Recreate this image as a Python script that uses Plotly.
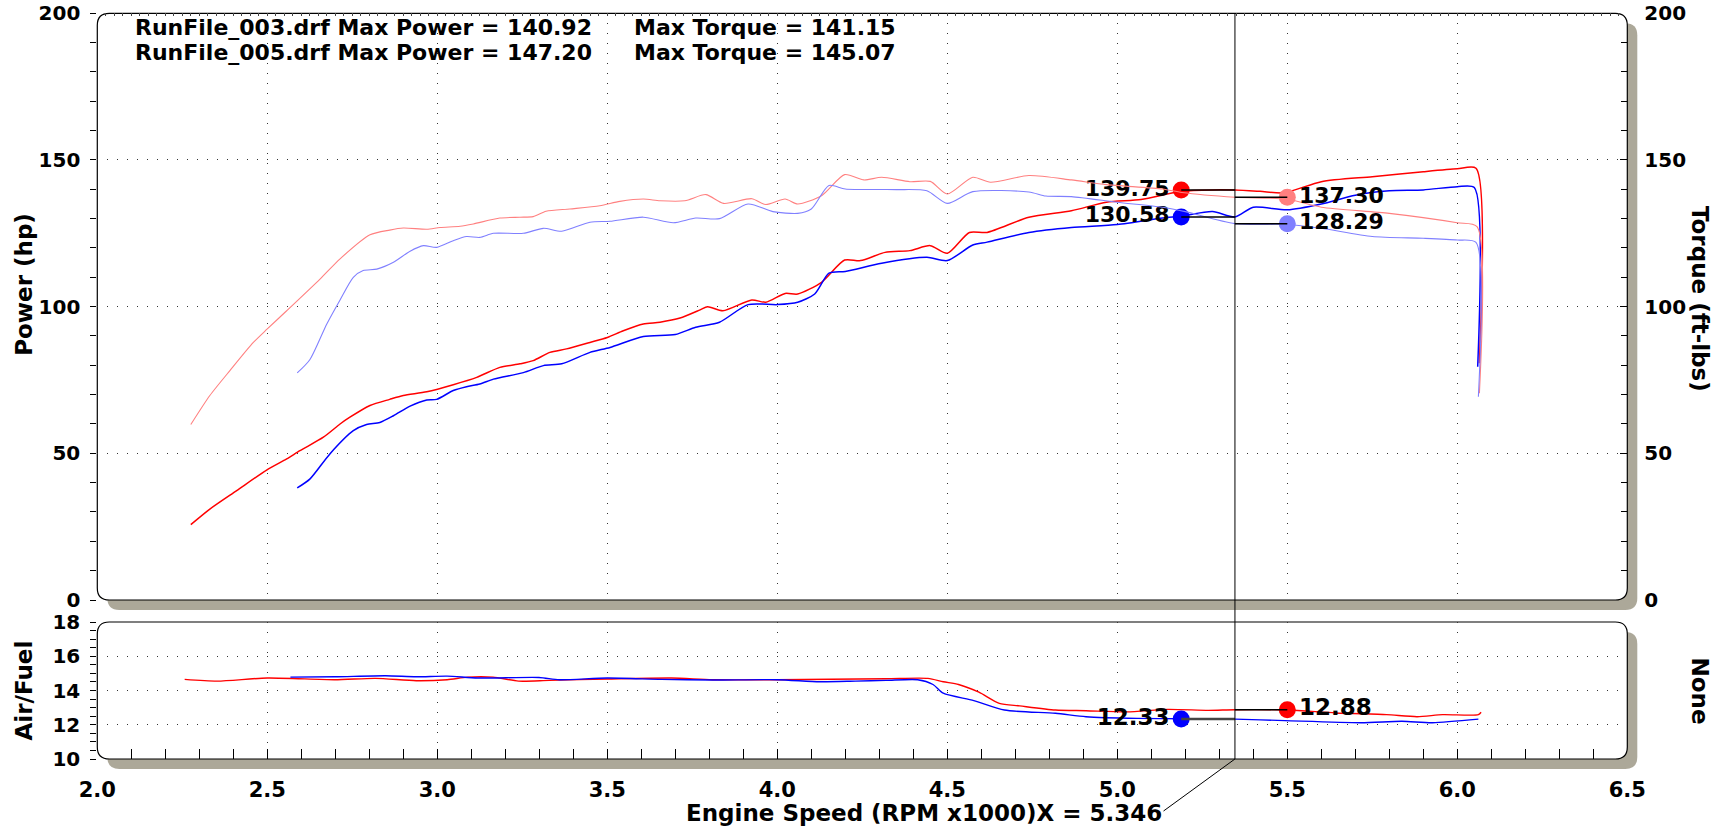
import plotly.graph_objects as go

# ---------------- data ----------------
rpm_pwr_005 = [2.275, 2.331, 2.41, 2.498, 2.557, 2.596, 2.665, 2.714, 2.743, 2.802, 2.86, 2.9, 2.969,
               3.047, 3.116, 3.184, 3.243, 3.282, 3.331, 3.38, 3.449, 3.5, 3.547, 3.606, 3.655, 3.714,
               3.773, 3.795, 3.84, 3.925, 3.966, 4.023, 4.06, 4.13, 4.198, 4.245, 4.317, 4.39, 4.45,
               4.5, 4.565, 4.617, 4.74, 4.865, 4.968, 5.07, 5.19, 5.28, 5.346, 5.42, 5.49, 5.6, 5.75,
               5.9, 6.0, 6.055, 6.065]
pwr_005 = [25.7, 31.0, 37.3, 44.3, 48.1, 50.9, 55.5, 60.0, 62.3, 66.3, 68.4, 69.7, 71.0,
           73.4, 75.9, 79.3, 80.5, 81.6, 84.4, 85.6, 87.8, 89.5, 91.8, 94.1, 94.7, 96.1,
           98.9, 100.0, 98.6, 102.3, 101.5, 104.5, 104.3, 108.3, 115.9, 115.7, 118.5, 119.1, 120.8,
           118.2, 125.3, 125.3, 130.5, 132.7, 135.6, 136.5, 139.3, 139.8, 139.75, 139.3, 138.8, 142.6, 144.3,
           146.0, 147.0, 147.2, 80.7]

rpm_pwr_003 = [2.588, 2.625, 2.684, 2.753, 2.792, 2.831, 2.871, 2.92, 2.969, 2.998, 3.047, 3.086, 3.125,
               3.165, 3.253, 3.312, 3.366, 3.449, 3.508, 3.606, 3.70, 3.76, 3.83, 3.914, 4.0, 4.06,
               4.11, 4.152, 4.2, 4.307, 4.44, 4.5, 4.575, 4.617, 4.74, 4.865, 5.0, 5.133, 5.19, 5.28,
               5.346, 5.4, 5.5, 5.6, 5.7, 5.8, 5.9, 6.0, 6.05, 6.06]
pwr_003 = [38.2, 41.2, 49.8, 57.7, 59.8, 60.5, 62.8, 66.1, 68.2, 68.4, 71.4, 72.7, 73.6,
           75.3, 77.5, 79.9, 80.5, 84.4, 86.1, 89.8, 90.5, 93.0, 94.7, 100.7, 100.7, 101.5,
           104.3, 111.4, 112.0, 114.8, 116.8, 115.7, 121.0, 122.0, 125.3, 127.0, 128.0, 130.2, 130.9, 132.4,
           130.58, 133.9, 133.0, 135.0, 138.0, 139.5, 139.8, 140.9, 140.6, 79.5]

rpm_trq_005 = [2.275, 2.331, 2.39, 2.459, 2.5, 2.557, 2.655, 2.714, 2.802, 2.86, 2.9, 2.969, 3.008,
               3.067, 3.106, 3.184, 3.243, 3.282, 3.32, 3.39, 3.478, 3.537, 3.606, 3.655, 3.728, 3.79,
               3.842, 3.925, 3.966, 4.023, 4.06, 4.13, 4.198, 4.255, 4.307, 4.39, 4.45, 4.5, 4.575,
               4.627, 4.74, 4.865, 4.968, 5.133, 5.19, 5.346, 5.5, 5.6, 5.8, 6.0, 6.058, 6.065]
trq_005 = [59.8, 69.7, 78.2, 87.8, 92.4, 98.6, 109.4, 116.3, 124.5, 126.1, 126.8, 126.4, 127.0,
           127.4, 128.2, 130.2, 130.5, 130.7, 132.5, 133.3, 134.4, 135.9, 136.7, 136.1, 136.1, 138.2,
           135.2, 136.8, 134.8, 136.7, 135.0, 137.8, 145.0, 143.2, 144.1, 142.6, 142.7, 138.4, 144.1,
           142.4, 144.7, 143.2, 141.6, 140.1, 138.9, 137.3, 136.6, 133.9, 131.8, 128.6, 127.3, 70.5]

rpm_trq_003 = [2.588, 2.625, 2.675, 2.714, 2.753, 2.782, 2.822, 2.871, 2.92, 2.959, 2.998, 3.047, 3.086,
               3.125, 3.165, 3.253, 3.312, 3.366, 3.449, 3.508, 3.606, 3.694, 3.76, 3.83, 3.914, 3.987,
               4.06, 4.10, 4.152, 4.2, 4.35, 4.44, 4.5, 4.575, 4.74, 4.79, 4.865, 5.0, 5.133, 5.2,
               5.346, 5.5, 5.6, 5.75, 5.9, 6.0, 6.055, 6.062]
trq_003 = [77.4, 81.9, 94.1, 102.3, 110.0, 112.3, 112.8, 115.1, 118.9, 120.8, 120.2, 122.5, 123.9,
           123.6, 125.0, 125.0, 126.7, 125.7, 128.8, 129.1, 130.5, 128.6, 130.2, 130.0, 135.0, 132.4,
           131.8, 133.3, 141.3, 140.1, 139.9, 139.5, 135.2, 139.2, 139.1, 137.7, 137.5, 135.6, 133.9, 132.4,
           128.29, 128.0, 126.7, 123.9, 123.3, 122.7, 121.9, 69.3]

rpm_afr_005 = [2.257, 2.353, 2.5, 2.698, 2.818, 2.938, 3.029, 3.089, 3.164, 3.239, 3.329, 3.5, 3.689,
               3.809, 4.0, 4.32, 4.443, 4.488, 4.533, 4.593, 4.653, 4.713, 4.818, 4.908, 5.028, 5.148,
               5.268, 5.346, 5.5, 5.642, 5.792, 5.882, 5.957, 6.062, 6.07]
afr_005 = [14.65, 14.55, 14.73, 14.63, 14.71, 14.57, 14.63, 14.78, 14.78, 14.55, 14.59, 14.67, 14.73,
           14.63, 14.63, 14.69, 14.71, 14.51, 14.35, 13.9, 13.25, 13.1, 12.86, 12.82, 12.75, 12.9,
           12.84, 12.88, 12.86, 12.69, 12.59, 12.47, 12.59, 12.59, 12.73]

rpm_afr_003 = [2.568, 2.698, 2.848, 2.938, 3.029, 3.119, 3.299, 3.359, 3.5, 3.659, 3.809, 4.0, 4.125,
               4.23, 4.32, 4.413, 4.458, 4.488, 4.578, 4.668, 4.818, 4.908, 5.058, 5.19, 5.346, 5.493,
               5.717, 5.837, 5.927, 6.062]
afr_003 = [14.78, 14.8, 14.86, 14.8, 14.84, 14.73, 14.76, 14.63, 14.73, 14.65, 14.61, 14.63, 14.51,
           14.55, 14.59, 14.63, 14.35, 13.84, 13.41, 12.86, 12.67, 12.47, 12.37, 12.35, 12.33, 12.24,
           12.12, 12.2, 12.12, 12.33]

CURSOR_X = 5.346
LEFT_MARK_X = 5.188
RIGHT_MARK_X = 5.5
cursor_pwr = [139.75, 130.58]      # 005, 003
cursor_trq = [137.30, 128.29]      # 005, 003
cursor_afr_left = 12.33            # 003
cursor_afr_right = 12.88           # 005

header_lines = ["RunFile_003.drf Max Power = 140.92", "RunFile_005.drf Max Power = 147.20"]
header_torque = ["Max Torque = 141.15", "Max Torque = 145.07"]
x_title = "Engine Speed (RPM x1000)X = 5.346"

# ---------------- styling ----------------
W, H = 1723, 828
XDOM = [97.3 / W, 1627.3 / W]
YDOM_TOP = [1 - 600 / H, 1 - 13.3 / H]
YDOM_BOT = [1 - 759 / H, 1 - 622 / H]

RED = "#ff0000"
BLUE = "#0000ff"
LRED = "#ff8080"
LBLUE = "#8080ff"
SHADOW = "#aca899"

F_MAIN = "DejaVu Sans"

fig = go.Figure()

line_shape = dict(shape="spline", smoothing=0.7)

fig.add_trace(go.Scatter(x=rpm_trq_005, y=trq_005, mode="lines", yaxis="y3", xaxis="x",
                         line=dict(color=LRED, width=1.1, **line_shape), hoverinfo="skip"))
fig.add_trace(go.Scatter(x=rpm_trq_003, y=trq_003, mode="lines", yaxis="y3", xaxis="x",
                         line=dict(color=LBLUE, width=1.1, **line_shape), hoverinfo="skip"))
fig.add_trace(go.Scatter(x=rpm_pwr_005, y=pwr_005, mode="lines", xaxis="x", yaxis="y",
                         line=dict(color=RED, width=1.5, **line_shape), hoverinfo="skip"))
fig.add_trace(go.Scatter(x=rpm_pwr_003, y=pwr_003, mode="lines", xaxis="x", yaxis="y",
                         line=dict(color=BLUE, width=1.5, **line_shape), hoverinfo="skip"))
fig.add_trace(go.Scatter(x=rpm_afr_005, y=afr_005, mode="lines", xaxis="x2", yaxis="y2",
                         line=dict(color=RED, width=1.4, **line_shape), hoverinfo="skip"))
fig.add_trace(go.Scatter(x=rpm_afr_003, y=afr_003, mode="lines", xaxis="x2", yaxis="y2",
                         line=dict(color=BLUE, width=1.4, **line_shape), hoverinfo="skip"))

# leader lines
shapes = []
for v in cursor_pwr:
    shapes.append(dict(type="line", xref="x", yref="y", x0=LEFT_MARK_X, x1=CURSOR_X, y0=v, y1=v,
                       line=dict(color="black", width=1.5), layer="above"))
for v in cursor_trq:
    shapes.append(dict(type="line", xref="x", yref="y3", x0=CURSOR_X, x1=RIGHT_MARK_X, y0=v, y1=v,
                       line=dict(color="black", width=1.5), layer="above"))
shapes.append(dict(type="line", xref="x2", yref="y2", x0=LEFT_MARK_X, x1=CURSOR_X,
                   y0=cursor_afr_left, y1=cursor_afr_left, line=dict(color="#444", width=2.5), layer="above"))
shapes.append(dict(type="line", xref="x2", yref="y2", x0=CURSOR_X, x1=RIGHT_MARK_X,
                   y0=cursor_afr_right, y1=cursor_afr_right, line=dict(color="black", width=1.5), layer="above"))

label_font = dict(family=F_MAIN, size=22, color="black", weight="bold")
afr_label_font = dict(family=F_MAIN, size=23, color="black", weight="bold")
# markers with value labels
fig.add_trace(go.Scatter(x=[LEFT_MARK_X] * 2, y=cursor_pwr, mode="markers+text", xaxis="x", yaxis="y",
                         marker=dict(size=17, color=[RED, BLUE]), text=[f"{v:.2f}" for v in cursor_pwr],
                         textposition="middle left", textfont=label_font, hoverinfo="skip"))
fig.add_trace(go.Scatter(x=[RIGHT_MARK_X] * 2, y=cursor_trq, mode="markers+text", xaxis="x", yaxis="y3",
                         marker=dict(size=17, color=[LRED, LBLUE]), text=[f"{v:.2f}" for v in cursor_trq],
                         textposition="middle right", textfont=label_font, hoverinfo="skip"))
fig.add_trace(go.Scatter(x=[LEFT_MARK_X], y=[cursor_afr_left], mode="markers+text", xaxis="x2", yaxis="y2",
                         marker=dict(size=17, color=BLUE), text=[f"{cursor_afr_left:.2f}"],
                         textposition="middle left", textfont=afr_label_font, hoverinfo="skip"))
fig.add_trace(go.Scatter(x=[RIGHT_MARK_X], y=[cursor_afr_right], mode="markers+text", xaxis="x2", yaxis="y2",
                         marker=dict(size=17, color=RED), text=[f"{cursor_afr_right:.2f}"],
                         textposition="middle right", textfont=afr_label_font, hoverinfo="skip"))


# rounded frames with drop shadow (paper coordinates)
def rounded(x0, y0, x1, y1, r):
    def P(x, y):
        return f"{x / W:.5f},{1 - y / H:.5f}"
    return (f"M {P(x0 + r, y0)} L {P(x1 - r, y0)} Q {P(x1, y0)} {P(x1, y0 + r)} "
            f"L {P(x1, y1 - r)} Q {P(x1, y1)} {P(x1 - r, y1)} L {P(x0 + r, y1)} "
            f"Q {P(x0, y1)} {P(x0, y1 - r)} L {P(x0, y0 + r)} Q {P(x0, y0)} {P(x0 + r, y0)} Z")


for yd in (YDOM_TOP, YDOM_BOT):
    px0, px1 = XDOM[0] * W, XDOM[1] * W
    py0, py1 = (1 - yd[1]) * H, (1 - yd[0]) * H
    off = 10
    shapes.append(dict(type="path", xref="paper", yref="paper", layer="below",
                       path=rounded(px0 + off, py0 + off, px1 + off, py1 + off, 12),
                       fillcolor=SHADOW, line=dict(width=0)))
    shapes.append(dict(type="path", xref="paper", yref="paper", layer="below",
                       path=rounded(px0, py0, px1, py1, 12),
                       fillcolor="white", line=dict(color="black", width=1.2)))

# cursor line across both panels and its diagonal leader to the axis title
shapes.append(dict(type="line", xref="x", yref="paper", x0=CURSOR_X, x1=CURSOR_X,
                   y0=YDOM_BOT[0], y1=YDOM_TOP[1], line=dict(color="black", width=1), layer="above"))
TITLE_END_X = CURSOR_X - 0.21
TITLE_Y = 1 - 813 / H
shapes.append(dict(type="line", xref="x", yref="paper", x0=CURSOR_X, x1=TITLE_END_X,
                   y0=YDOM_BOT[0], y1=1 - 811 / H, line=dict(color="black", width=1), layer="above"))

annotations = []
for i, (a, b) in enumerate(zip(header_lines, header_torque)):
    yy = 1 - (27 + 25 * i) / H
    annotations.append(dict(xref="paper", yref="paper", x=133 / W, y=yy, xanchor="left", yanchor="middle",
                            text=a, showarrow=False,
                            font=dict(family=F_MAIN, size=22, color="black", weight="bold")))
    annotations.append(dict(xref="paper", yref="paper", x=632 / W, y=yy, xanchor="left", yanchor="middle",
                            text=b, showarrow=False,
                            font=dict(family=F_MAIN, size=22, color="black", weight="bold")))

annotations.append(dict(xref="x", yref="paper", x=TITLE_END_X, y=TITLE_Y, xanchor="right", yanchor="middle",
                        text=x_title, showarrow=False,
                        font=dict(family=F_MAIN, size=23, color="black", weight="bold")))
side_titles = [("Power (hp)", 24 / W, 0.656, -90), ("Torque (ft-lbs)", 1700 / W, 0.639, 90),
               ("Air/Fuel", 24 / W, 0.166, -90), ("None", 1700 / W, 0.166, 90)]
for t, xx, yy, ang in side_titles:
    annotations.append(dict(xref="paper", yref="paper", x=xx, y=yy, xanchor="center", yanchor="middle",
                            text=t, showarrow=False, textangle=ang,
                            font=dict(family=F_MAIN, size=23, color="black", weight="bold")))

grid_common = dict(showgrid=True, gridcolor="#333", gridwidth=1, griddash="1px,9px", zeroline=False,
                   showline=False, automargin=False)
tick_font = dict(family=F_MAIN, size=20, color="black", weight="bold")

fig.update_layout(
    width=W, height=H, margin=dict(l=0, r=0, t=0, b=0),
    paper_bgcolor="white", plot_bgcolor="rgba(0,0,0,0)", showlegend=False,
    xaxis=dict(domain=XDOM, range=[2, 6.5], anchor="y", side="top", dtick=0.5, showticklabels=False,
               ticks="inside", ticklen=3, tickcolor="#444",
               minor=dict(dtick=0.025, ticks="inside", ticklen=3, tickcolor="#444", showgrid=False),
               matches="x2", **grid_common),
    xaxis2=dict(domain=XDOM, range=[2, 6.5], anchor="y2", dtick=0.5, tick0=2, tickformat=".1f",
                ticks="inside", ticklen=10, tickcolor="black", tickwidth=1.2,
                minor=dict(dtick=0.1, ticks="inside", ticklen=10, tickcolor="black", showgrid=False),
                tickfont=dict(family=F_MAIN, size=21, color="black", weight="bold"), ticklabelstandoff=16,
                **grid_common),
    yaxis=dict(domain=YDOM_TOP, range=[0, 200], anchor="x", dtick=50, ticks="outside", ticklen=6,
               tickcolor="black", minor=dict(dtick=10, ticks="outside", ticklen=6, tickcolor="black", showgrid=False),
               tickfont=tick_font, ticklabelstandoff=6, **grid_common),
    yaxis3=dict(range=[0, 200], overlaying="y", side="right", anchor="x", dtick=50, ticks="inside",
                ticklen=7, tickcolor="black", showgrid=False, zeroline=False, showline=False, automargin=False,
                minor=dict(dtick=10, ticks="inside", ticklen=6, tickcolor="black"),
                tickfont=tick_font, ticklabelstandoff=16),
    yaxis2=dict(domain=YDOM_BOT, range=[10, 18], anchor="x2", dtick=2, ticks="outside", ticklen=6,
                tickcolor="black", minor=dict(dtick=0.5, ticks="outside", ticklen=6, tickcolor="black", showgrid=False),
                tickfont=tick_font, ticklabelstandoff=6, **grid_common),
    shapes=shapes, annotations=annotations,
)

fig.write_html("out.html", config={"displayModeBar": False},
               post_script="document.body.style.margin='0';document.body.style.overflow='hidden';")
